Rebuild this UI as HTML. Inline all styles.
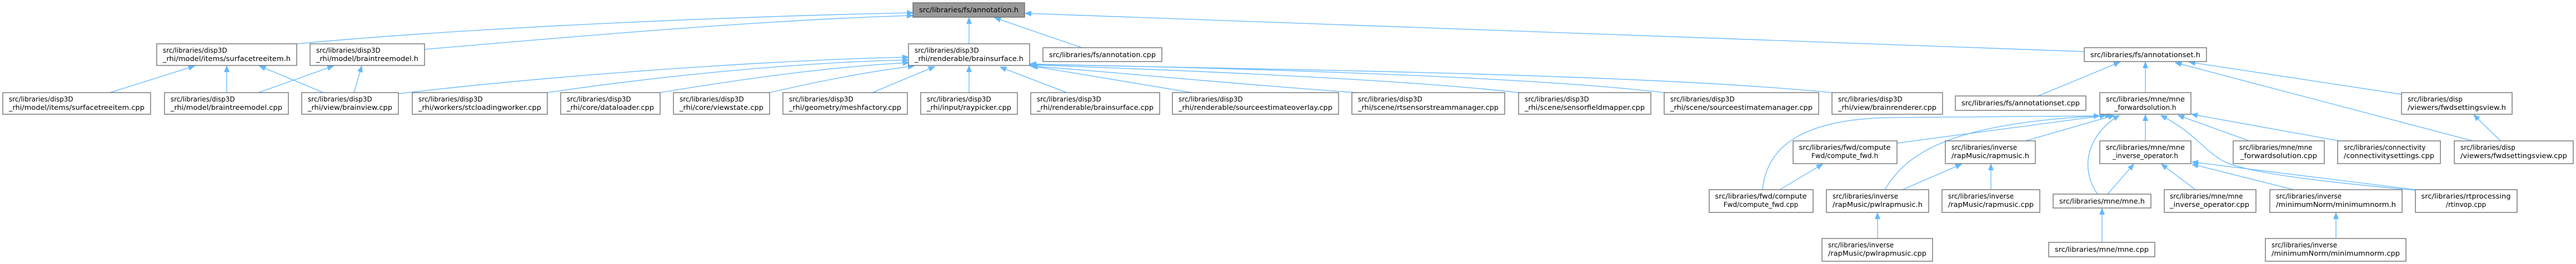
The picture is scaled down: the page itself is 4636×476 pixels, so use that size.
<!DOCTYPE html>
<html><head><meta charset="utf-8"><style>
html,body{margin:0;padding:0;background:#fff;}
svg{display:block;}
text{font-family:"DejaVu Sans","Liberation Sans",sans-serif;font-size:12px;fill:#000;}
.b{fill:#fff;stroke:#666;stroke-width:1.3;}
.g{fill:#999;stroke:#666;stroke-width:1.3;}
.e{fill:none;stroke:#63b8ff;stroke-width:1.3;}
</style></head><body>
<svg width="4636" height="476" viewBox="0 0 4636 476" xmlns="http://www.w3.org/2000/svg">
<defs><marker id="a" markerUnits="userSpaceOnUse" markerWidth="12" markerHeight="10" refX="11" refY="4.5" orient="auto"><polygon points="0,0 11,4.5 0,9" fill="#63b8ff" stroke="#63b8ff"/></marker></defs>
<g marker-end="url(#a)">
<path class="e" d="M534,79 C900,45 1400,28 1643,23"/>
<path class="e" d="M764,89 C1100,60 1400,35 1643,28"/>
<path class="e" d="M1744,79 L1744,32"/>
<path class="e" d="M1947,86 L1790,32"/>
<path class="e" d="M3751,93 L1845,24"/>
<path class="e" d="M198,167 L350,119"/>
<path class="e" d="M408,167 L408,119"/>
<path class="e" d="M582,167 L467,119"/>
<path class="e" d="M465,167 L600,119"/>
<path class="e" d="M637,167 L651,119"/>
<path class="e" d="M717,169 C1000,135 1400,108 1635,103"/>
<path class="e" d="M985,167 C1200,135 1450,112 1635,108"/>
<path class="e" d="M1188,167 C1350,140 1500,120 1636,113"/>
<path class="e" d="M1385,167 C1480,145 1570,128 1645,119"/>
<path class="e" d="M1570,167 L1682,120"/>
<path class="e" d="M1744,167 L1744,119"/>
<path class="e" d="M1920,167 L1800,121"/>
<path class="e" d="M2145,167 L1857,119"/>
<path class="e" d="M2440,167 C2200,150 1950,125 1854,119"/>
<path class="e" d="M2733,167 C2500,140 2000,122 1854,117"/>
<path class="e" d="M2995,167 C2700,132 2000,118 1854,116"/>
<path class="e" d="M3297,167 C2900,128 2100,124 1854,115"/>
<path class="e" d="M3668,173 L3815,112"/>
<path class="e" d="M3861,167 L3861,112"/>
<path class="e" d="M4322,170 L3940,112"/>
<path class="e" d="M4450,254 L3915,113"/>
<path class="e" d="M4500,254 L4452,207"/>
<path class="e" d="M3172,342 C3180,260 3250,215 3400,212 L3779,209"/>
<path class="e" d="M3414,258 L3790,208"/>
<path class="e" d="M3392,342 C3430,280 3500,220 3800,208"/>
<path class="e" d="M3645,254 L3805,208"/>
<path class="e" d="M3775,350 C3740,300 3760,240 3814,208"/>
<path class="e" d="M3861,254 L3861,207"/>
<path class="e" d="M4346,343 C4150,325 4040,310 4000,290 C3960,265 3950,240 3889,208"/>
<path class="e" d="M4048,254 L3920,208"/>
<path class="e" d="M4210,254 L3944,206"/>
<path class="e" d="M3793,350 L3840,296"/>
<path class="e" d="M3951,342 L3890,296"/>
<path class="e" d="M4128,342 L3945,296"/>
<path class="e" d="M4347,342 L3945,292"/>
<path class="e" d="M3203,342 L3280,296"/>
<path class="e" d="M3424,342 L3530,296"/>
<path class="e" d="M3583,342 L3583,296"/>
<path class="e" d="M3379,430 L3379,384"/>
<path class="e" d="M3783,437 L3783,376"/>
<path class="e" d="M4204,430 L4204,384"/>
</g>

<!-- nodes -->
<rect class="g" x="1643" y="5" width="201" height="26"/>
<text x="1654" y="22" textLength="179" lengthAdjust="spacingAndGlyphs">src/libraries/fs/annotation.h</text>

<rect class="b" x="282" y="79" width="252" height="39"/>
<text x="293" y="95">src/libraries/disp3D</text><text x="293" y="110" textLength="230" lengthAdjust="spacingAndGlyphs">_rhi/model/items/surfacetreeitem.h</text>
<rect class="b" x="558" y="79" width="206" height="39"/>
<text x="569" y="95">src/libraries/disp3D</text><text x="569" y="110" textLength="184" lengthAdjust="spacingAndGlyphs">_rhi/model/braintreemodel.h</text>
<rect class="b" x="1635" y="79" width="218" height="39"/>
<text x="1646" y="95">src/libraries/disp3D</text><text x="1646" y="110" textLength="196" lengthAdjust="spacingAndGlyphs">_rhi/renderable/brainsurface.h</text>
<rect class="b" x="1877" y="86" width="214" height="25"/>
<text x="1888" y="103" textLength="192" lengthAdjust="spacingAndGlyphs">src/libraries/fs/annotation.cpp</text>
<rect class="b" x="3751" y="86" width="220" height="25"/>
<text x="3762" y="103" textLength="198" lengthAdjust="spacingAndGlyphs">src/libraries/fs/annotationset.h</text>

<rect class="b" x="5" y="167" width="266" height="39"/>
<text x="16" y="183">src/libraries/disp3D</text><text x="16" y="198" textLength="244" lengthAdjust="spacingAndGlyphs">_rhi/model/items/surfacetreeitem.cpp</text>
<rect class="b" x="296" y="167" width="223" height="39"/>
<text x="307" y="183">src/libraries/disp3D</text><text x="307" y="198" textLength="201" lengthAdjust="spacingAndGlyphs">_rhi/model/braintreemodel.cpp</text>
<rect class="b" x="543" y="167" width="174" height="39"/>
<text x="554" y="183">src/libraries/disp3D</text><text x="554" y="198" textLength="152" lengthAdjust="spacingAndGlyphs">_rhi/view/brainview.cpp</text>
<rect class="b" x="742" y="167" width="243" height="39"/>
<text x="753" y="183">src/libraries/disp3D</text><text x="753" y="198" textLength="221" lengthAdjust="spacingAndGlyphs">_rhi/workers/stcloadingworker.cpp</text>
<rect class="b" x="1009" y="167" width="179" height="39"/>
<text x="1020" y="183">src/libraries/disp3D</text><text x="1020" y="198" textLength="157" lengthAdjust="spacingAndGlyphs">_rhi/core/dataloader.cpp</text>
<rect class="b" x="1212" y="167" width="173" height="39"/>
<text x="1223" y="183">src/libraries/disp3D</text><text x="1223" y="198" textLength="151" lengthAdjust="spacingAndGlyphs">_rhi/core/viewstate.cpp</text>
<rect class="b" x="1409" y="167" width="224" height="39"/>
<text x="1420" y="183">src/libraries/disp3D</text><text x="1420" y="198" textLength="202" lengthAdjust="spacingAndGlyphs">_rhi/geometry/meshfactory.cpp</text>
<rect class="b" x="1657" y="167" width="174" height="39"/>
<text x="1668" y="183">src/libraries/disp3D</text><text x="1668" y="198" textLength="152" lengthAdjust="spacingAndGlyphs">_rhi/input/raypicker.cpp</text>
<rect class="b" x="1855" y="167" width="232" height="39"/>
<text x="1866" y="183">src/libraries/disp3D</text><text x="1866" y="198" textLength="210" lengthAdjust="spacingAndGlyphs">_rhi/renderable/brainsurface.cpp</text>
<rect class="b" x="2110" y="167" width="299" height="39"/>
<text x="2121" y="183">src/libraries/disp3D</text><text x="2121" y="198" textLength="277" lengthAdjust="spacingAndGlyphs">_rhi/renderable/sourceestimateoverlay.cpp</text>
<rect class="b" x="2433" y="167" width="275" height="39"/>
<text x="2444" y="183">src/libraries/disp3D</text><text x="2444" y="198" textLength="253" lengthAdjust="spacingAndGlyphs">_rhi/scene/rtsensorstreammanager.cpp</text>
<rect class="b" x="2733" y="167" width="238" height="39"/>
<text x="2744" y="183">src/libraries/disp3D</text><text x="2744" y="198" textLength="216" lengthAdjust="spacingAndGlyphs">_rhi/scene/sensorfieldmapper.cpp</text>
<rect class="b" x="2995" y="167" width="278" height="39"/>
<text x="3006" y="183">src/libraries/disp3D</text><text x="3006" y="198" textLength="256" lengthAdjust="spacingAndGlyphs">_rhi/scene/sourceestimatemanager.cpp</text>
<rect class="b" x="3297" y="167" width="199" height="39"/>
<text x="3308" y="183">src/libraries/disp3D</text><text x="3308" y="198" textLength="177" lengthAdjust="spacingAndGlyphs">_rhi/view/brainrenderer.cpp</text>
<rect class="b" x="3519" y="173" width="235" height="26"/>
<text x="3530" y="190" textLength="213" lengthAdjust="spacingAndGlyphs">src/libraries/fs/annotationset.cpp</text>
<rect class="b" x="3779" y="167" width="164" height="39"/>
<text x="3861" y="183" text-anchor="middle" textLength="142" lengthAdjust="spacingAndGlyphs">src/libraries/mne/mne</text><text x="3861" y="198" text-anchor="middle">_forwardsolution.h</text>
<rect class="b" x="4322" y="167" width="199" height="39"/>
<text x="4333" y="183">src/libraries/disp</text><text x="4333" y="198" textLength="177" lengthAdjust="spacingAndGlyphs">/viewers/fwdsettingsview.h</text>

<rect class="b" x="3227" y="254" width="187" height="41"/>
<text x="3320" y="270" text-anchor="middle" textLength="165" lengthAdjust="spacingAndGlyphs">src/libraries/fwd/compute</text><text x="3320" y="285" text-anchor="middle">Fwd/compute_fwd.h</text>
<rect class="b" x="3501" y="254" width="162" height="41"/>
<text x="3512" y="270">src/libraries/inverse</text><text x="3512" y="285" textLength="140" lengthAdjust="spacingAndGlyphs">/rapMusic/rapmusic.h</text>
<rect class="b" x="3779" y="254" width="164" height="41"/>
<text x="3861" y="270" text-anchor="middle" textLength="142" lengthAdjust="spacingAndGlyphs">src/libraries/mne/mne</text><text x="3861" y="285" text-anchor="middle">_inverse_operator.h</text>
<rect class="b" x="4019" y="254" width="164" height="41"/>
<text x="4030" y="270">src/libraries/mne/mne</text><text x="4032" y="285" textLength="138" lengthAdjust="spacingAndGlyphs">_forwardsolution.cpp</text>
<rect class="b" x="4207" y="254" width="185" height="41"/>
<text x="4218" y="270">src/libraries/connectivity</text><text x="4218" y="285" textLength="163" lengthAdjust="spacingAndGlyphs">/connectivitysettings.cpp</text>
<rect class="b" x="4417" y="254" width="214" height="41"/>
<text x="4428" y="270">src/libraries/disp</text><text x="4428" y="285" textLength="192" lengthAdjust="spacingAndGlyphs">/viewers/fwdsettingsview.cpp</text>

<rect class="b" x="3076" y="342" width="187" height="41"/>
<text x="3169" y="358" text-anchor="middle" textLength="165" lengthAdjust="spacingAndGlyphs">src/libraries/fwd/compute</text><text x="3169" y="373" text-anchor="middle">Fwd/compute_fwd.cpp</text>
<rect class="b" x="3287" y="342" width="184" height="41"/>
<text x="3298" y="358">src/libraries/inverse</text><text x="3298" y="373" textLength="162" lengthAdjust="spacingAndGlyphs">/rapMusic/pwlrapmusic.h</text>
<rect class="b" x="3495" y="342" width="176" height="41"/>
<text x="3506" y="358">src/libraries/inverse</text><text x="3506" y="373" textLength="154" lengthAdjust="spacingAndGlyphs">/rapMusic/rapmusic.cpp</text>
<rect class="b" x="3695" y="350" width="176" height="25"/>
<text x="3706" y="367" textLength="154" lengthAdjust="spacingAndGlyphs">src/libraries/mne/mne.h</text>
<rect class="b" x="3895" y="342" width="165" height="41"/>
<text x="3905" y="358">src/libraries/mne/mne</text><text x="3905" y="373" textLength="143" lengthAdjust="spacingAndGlyphs">_inverse_operator.cpp</text>
<rect class="b" x="4085" y="342" width="238" height="41"/>
<text x="4096" y="358">src/libraries/inverse</text><text x="4096" y="373" textLength="216" lengthAdjust="spacingAndGlyphs">/minimumNorm/minimumnorm.h</text>
<rect class="b" x="4347" y="342" width="183" height="41"/>
<text x="4438" y="358" text-anchor="middle" textLength="161" lengthAdjust="spacingAndGlyphs">src/libraries/rtprocessing</text><text x="4438" y="373" text-anchor="middle">/rtinvop.cpp</text>

<rect class="b" x="3279" y="430" width="199" height="41"/>
<text x="3290" y="446">src/libraries/inverse</text><text x="3290" y="461" textLength="177" lengthAdjust="spacingAndGlyphs">/rapMusic/pwlrapmusic.cpp</text>
<rect class="b" x="3687" y="437" width="191" height="26"/>
<text x="3698" y="454" textLength="169" lengthAdjust="spacingAndGlyphs">src/libraries/mne/mne.cpp</text>
<rect class="b" x="4077" y="430" width="253" height="41"/>
<text x="4088" y="446">src/libraries/inverse</text><text x="4088" y="461" textLength="231" lengthAdjust="spacingAndGlyphs">/minimumNorm/minimumnorm.cpp</text>
</svg>
</body></html>
